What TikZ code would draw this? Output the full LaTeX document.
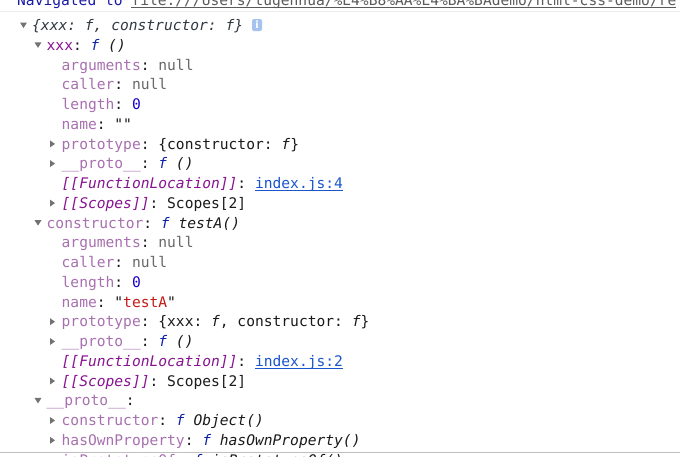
\documentclass[tikz,border=0pt]{standalone}
\usepackage{fontspec}
\setmonofont{DejaVu Sans Mono}
\setsansfont{DejaVu Sans}
\definecolor{keyc}{HTML}{881391}
\definecolor{keydim}{HTML}{A870B0}
\definecolor{nullc}{HTML}{686868}
\definecolor{numc}{HTML}{1C00CF}
\definecolor{fnc}{HTML}{0D22AA}
\definecolor{strc}{HTML}{C41A16}
\definecolor{linkc}{HTML}{1A55CC}
\definecolor{txtc}{HTML}{1A1A1A}
\definecolor{prevc}{HTML}{303942}
\definecolor{tric}{HTML}{727272}
\definecolor{navc}{HTML}{1A1AA6}
\definecolor{urlc}{HTML}{5A5A5A}
\definecolor{infoc}{HTML}{A6C3F0}
\newcommand{\pkey}[1]{\textcolor{keyc}{#1}}
\newcommand{\pkeyd}[1]{\textcolor{keydim}{#1}}
\newcommand{\pnull}{\textcolor{nullc}{null}}
\newcommand{\pnum}[1]{\textcolor{numc}{#1}}
\newcommand{\pfun}{\textcolor{fnc}{\itshape f}}
\newcommand{\pstr}[1]{\textcolor{strc}{#1}}
\newcommand{\pline}[1]{\setbox0\hbox{#1}\rlap{\rule[-2.2pt]{\wd0}{0.9pt}}\box0}
\newcommand{\plink}[1]{\textcolor{linkc}{\pline{#1}}}
\begin{document}
\begin{tikzpicture}[x=1pt,y=-1pt,
    row/.style={anchor=base west, inner sep=0pt, text=txtc, font=\ttfamily\fontsize{14.6}{17}\selectfont},
    tri/.style={fill=tric},
    infobox/.style={fill=infoc, rounded corners=2pt, minimum width=10pt, minimum height=12pt, inner sep=0pt, text=white, font=\sffamily\bfseries\fontsize{10}{10}\selectfont}]
\useasboundingbox (0,0) rectangle (680,456);
\clip (0,0) rectangle (680,456);
\fill[white] (0,0) rectangle (680,456);
% cut-off header line
\node[row, text=navc] (nav) at (17,5.5) {Navigated to \textcolor{urlc}{\pline{file:///Users/tugenhua/\%E4\%B8\%AA\%E4\%BA\%BAdemo/html-css-demo/re}}};
\draw[draw=black!7, line width=1pt] (0,11.5)--(680,11.5);
% object root
\fill[tri] (20,22.5)--(27,22.5)--(23.5,28)--cycle;
\node[row, text=prevc] (l0) at (32,30.5) {\itshape\{xxx: f, constructor: f\}};
\node[infobox] (info) at (257,25) {i};
% xxx
\fill[tri] (34.5,42.3)--(41.5,42.3)--(38,47.8)--cycle;
\node[row] (l1) at (46.5,50.3) {\pkey{xxx}: \pfun{} \textit{()}};
\node[row] (l2) at (61.5,70.0) {\pkeyd{arguments}: \pnull};
\node[row] (l3) at (61.5,89.8) {\pkeyd{caller}: \pnull};
\node[row] (l4) at (61.5,109.5) {\pkeyd{length}: \pnum{0}};
\node[row] (l5) at (61.5,129.3) {\pkeyd{name}: ""};
\fill[tri] (50,140.4)--(50,147.4)--(55,143.9)--cycle;
\node[row] (l6) at (61.5,149.1) {\pkeyd{prototype}: \{constructor: \textit{f}\}};
\fill[tri] (50,160.1)--(50,167.1)--(55,163.6)--cycle;
\node[row] (l7) at (61.5,168.8) {\pkeyd{\_\_proto\_\_}: \pfun{} \textit{()}};
\node[row] (l8) at (61.5,188.6) {\pkey{\itshape [[FunctionLocation]]}: \plink{index.js:4}};
\fill[tri] (50,199.6)--(50,206.6)--(55,203.1)--cycle;
\node[row] (l9) at (61.5,208.3) {\pkey{\itshape [[Scopes]]}: Scopes[2]};
% constructor
\fill[tri] (34.5,220.1)--(41.5,220.1)--(38,225.6)--cycle;
\node[row] (l10) at (46.5,228.1) {\pkeyd{constructor}: \pfun{} \textit{testA()}};
\node[row] (l11) at (61.5,247.9) {\pkeyd{arguments}: \pnull};
\node[row] (l12) at (61.5,267.6) {\pkeyd{caller}: \pnull};
\node[row] (l13) at (61.5,287.4) {\pkeyd{length}: \pnum{0}};
\node[row] (l14) at (61.5,307.1) {\pkeyd{name}: "\pstr{testA}"};
\fill[tri] (50,318.2)--(50,325.2)--(55,321.7)--cycle;
\node[row] (l15) at (61.5,326.9) {\pkeyd{prototype}: \{xxx: \textit{f}, constructor: \textit{f}\}};
\fill[tri] (50,338.0)--(50,345.0)--(55,341.5)--cycle;
\node[row] (l16) at (61.5,346.7) {\pkeyd{\_\_proto\_\_}: \pfun{} \textit{()}};
\node[row] (l17) at (61.5,366.4) {\pkey{\itshape [[FunctionLocation]]}: \plink{index.js:2}};
\fill[tri] (50,377.5)--(50,384.5)--(55,381.0)--cycle;
\node[row] (l18) at (61.5,386.2) {\pkey{\itshape [[Scopes]]}: Scopes[2]};
% __proto__ of the object
\fill[tri] (34.5,397.9)--(41.5,397.9)--(38,403.4)--cycle;
\node[row] (l19) at (46.5,405.9) {\pkeyd{\_\_proto\_\_}:};
\fill[tri] (50,417.0)--(50,424.0)--(55,420.5)--cycle;
\node[row] (l20) at (61.5,425.7) {\pkeyd{constructor}: \pfun{} \textit{Object()}};
\fill[tri] (50,436.8)--(50,443.8)--(55,440.3)--cycle;
\node[row] (l21) at (61.5,445.5) {\pkeyd{hasOwnProperty}: \pfun{} \textit{hasOwnProperty()}};
\node[row] (l22) at (61.5,465.2) {\pkeyd{isPrototypeOf}: \pfun{} \textit{isPrototypeOf()}};
\draw[draw=black!25, line width=1pt] (0,452)--(680,452);
\end{tikzpicture}
\end{document}
